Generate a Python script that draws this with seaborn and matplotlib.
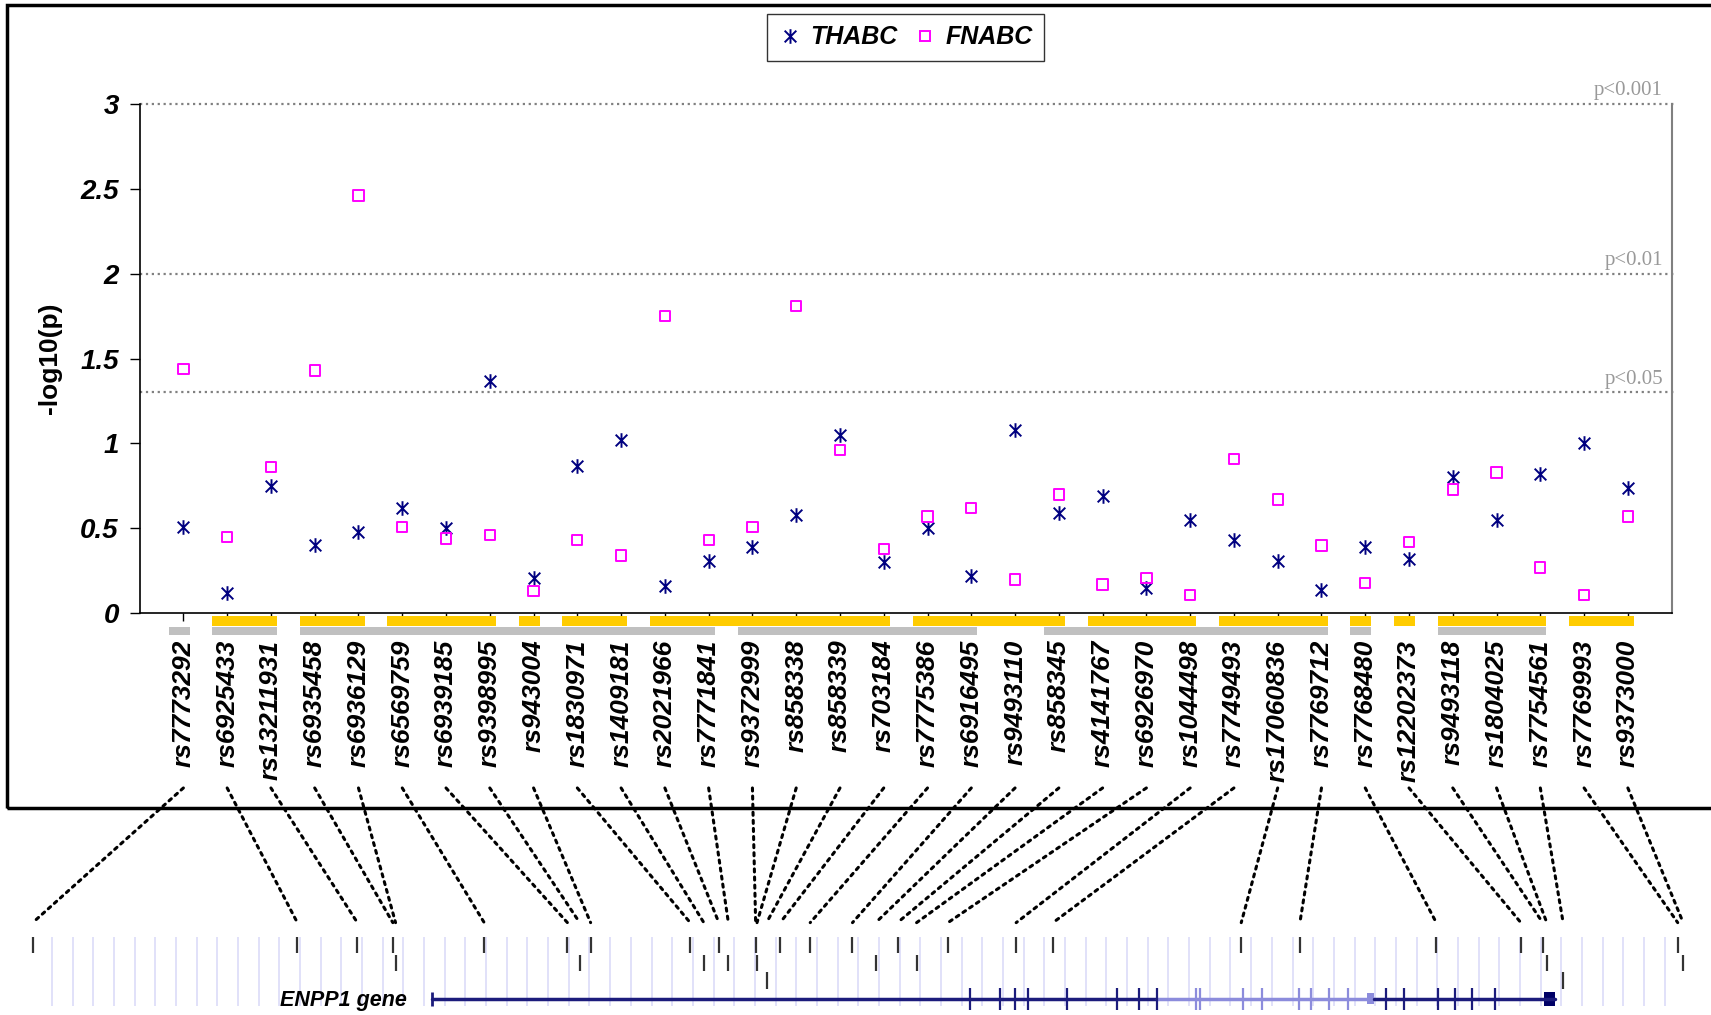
import numpy as np
import pandas as pd
import seaborn as sns
import matplotlib.pyplot as plt
from matplotlib.path import Path
from matplotlib.patches import Rectangle, ConnectionPatch
from matplotlib.lines import Line2D

# SNPs in plotting order
snps = ['rs7773292', 'rs6925433', 'rs13211931', 'rs6935458', 'rs6936129', 'rs6569759',
        'rs6939185', 'rs9398995', 'rs943004', 'rs1830971', 'rs1409181', 'rs2021966',
        'rs7771841', 'rs9372999', 'rs858338', 'rs858339', 'rs703184', 'rs7775386',
        'rs6916495', 'rs9493110', 'rs858345', 'rs4141767', 'rs6926970', 'rs1044498',
        'rs7749493', 'rs17060836', 'rs7769712', 'rs7768480', 'rs12202373', 'rs9493118',
        'rs1804025', 'rs7754561', 'rs7769993', 'rs9373000']

thabc = [0.51, 0.12, 0.75, 0.40, 0.48, 0.62, 0.50, 1.37, 0.21, 0.87, 1.02, 0.16,
         0.31, 0.39, 0.58, 1.05, 0.30, 0.50, 0.22, 1.08, 0.59, 0.69, 0.15, 0.55,
         0.43, 0.31, 0.14, 0.39, 0.32, 0.80, 0.55, 0.82, 1.00, 0.74]

fnabc = [1.44, 0.45, 0.86, 1.43, 2.46, 0.51, 0.44, 0.46, 0.13, 0.43, 0.34, 1.75,
         0.43, 0.51, 1.81, 0.96, 0.38, 0.57, 0.62, 0.20, 0.70, 0.17, 0.21, 0.11,
         0.91, 0.67, 0.40, 0.18, 0.42, 0.73, 0.83, 0.27, 0.11, 0.57]

# LD blocks (first and last SNP index)
yellow_blocks = [(1, 2), (3, 4), (5, 7), (8, 8), (9, 10), (11, 16), (17, 20),
                 (21, 23), (24, 26), (27, 27), (28, 28), (29, 31), (32, 33)]
gray_blocks = [(0, 0), (1, 2), (3, 12), (13, 18), (20, 26), (27, 27), (29, 31)]

# significance thresholds
sig_p = [0.001, 0.01, 0.05]
sig_labels = ['p<0.001', 'p<0.01', 'p<0.05']

yticks = [0, 0.5, 1, 1.5, 2, 2.5, 3]
ytick_labels = ['0', '0.5', '1', '1.5', '2', '2.5', '3']

# genomic position of each SNP (kb, relative) and stacking row in the track
snp_kb = [0.0, 19.4, 23.8, 26.4, 26.6, 33.1, 39.2, 40.1, 40.9, 48.2, 49.2, 50.3,
          51.0, 53.0, 53.1, 53.8, 54.8, 57.0, 60.1, 61.8, 63.4, 64.8, 67.1, 72.1,
          74.8, 88.6, 92.9, 102.9, 109.1, 110.7, 111.0, 112.2, 120.6, 121.0]
snp_row = [0, 0, 0, 0, 1, 0, 0, 1, 0, 0, 1, 0, 1, 0, 1, 2, 0, 0, 0, 1, 0, 1, 0, 0,
           0, 0, 0, 0, 0, 0, 1, 2, 0, 1]

# ENPP1 gene model (kb)
gene_start, gene_end = 29.3, 111.6
light_start, light_end = 82.4, 98.3
exons_dark = [68.7, 70.9, 72.0, 73.0, 75.8, 79.5, 81.1, 82.4,
              99.2, 100.5, 103.0, 104.3, 105.5, 107.2]
exons_light = [85.3, 85.6, 88.7, 90.1, 92.8, 93.7, 95.0, 96.4]
utr_light = (97.8, 98.3)
utr_dark = (110.8, 111.6)

sns.set_style('white')
plt.rcParams['font.family'] = ['Liberation Sans', 'DejaVu Sans']
plt.rcParams['text.color'] = 'black'
plt.rcParams['axes.labelcolor'] = 'black'
plt.rcParams['xtick.color'] = 'black'
plt.rcParams['ytick.color'] = 'black'

df = pd.DataFrame({'pos': np.arange(len(snps)), 'THABC': thabc, 'FNABC': fnabc})

navy = '#000080'
magenta = '#ff00ff'

fig = plt.figure(figsize=(17.11, 10.15), dpi=100)
ax = fig.add_axes([0.0816, 0.3957, 0.8954, 0.5021])

star = Path([(0, -1), (0, 1), (-0.8, -0.8), (0.8, 0.8), (-0.8, 0.8), (0.8, -0.8)],
            [Path.MOVETO, Path.LINETO] * 3)

sns.scatterplot(data=df, x='pos', y='THABC', marker=star, s=110, color=navy,
                edgecolor=navy, linewidth=1.4, ax=ax, zorder=3)
sns.scatterplot(data=df, x='pos', y='FNABC', marker='s', s=55, facecolor='none',
                edgecolor=magenta, linewidth=1.4, ax=ax, zorder=3)

ax.set_xlim(-1, 34)
ax.set_ylim(0, 3)
ax.set_xticks(range(len(snps)))
ax.set_xticklabels(snps, rotation=90, fontsize=19, fontweight='bold', fontstyle='italic')
ax.set_yticks(yticks)
ax.set_yticklabels(ytick_labels, fontsize=20, fontweight='bold', fontstyle='italic')
ax.tick_params(axis='x', bottom=True, direction='out', length=6, width=1, pad=13,
               color='black', labelcolor='black')
ax.tick_params(axis='y', left=True, direction='out', length=7, width=1, pad=8,
               color='black', labelcolor='black')
ax.set_xlabel('')
ax.set_ylabel('-log10(p)', fontsize=19, fontweight='bold', labelpad=13, color='black')

ax.spines['top'].set_visible(False)
ax.spines['right'].set_color('#808080')
ax.spines['right'].set_linewidth(1.5)
for side in ['left', 'bottom']:
    ax.spines[side].set_color('black')
    ax.spines[side].set_linewidth(1.2)

for p, lab in zip(sig_p, sig_labels):
    y = -np.log10(p)
    ax.axhline(y, xmin=0, xmax=1.003, ls=':', color='#808080', lw=1.6, clip_on=False)
    ax.text(33.8, y + 0.02, lab, ha='right', va='bottom', family='Liberation Serif',
            fontsize=15, color='#999999')

# LD block bars under the axis
for a, b in yellow_blocks:
    ax.add_patch(Rectangle((a - 0.34, -0.024), b - a + 0.48, 0.019,
                           transform=ax.get_xaxis_transform(), color='#ffcc00',
                           clip_on=False, lw=0))
for a, b in gray_blocks:
    ax.add_patch(Rectangle((a - 0.34, -0.043), b - a + 0.48, 0.017,
                           transform=ax.get_xaxis_transform(), color='#c0c0c0',
                           clip_on=False, lw=0))

handles = [Line2D([], [], marker=star, ls='none', markersize=10.5, markeredgecolor=navy,
                  markerfacecolor=navy, mew=1.4),
           Line2D([], [], marker='s', ls='none', markersize=7.4, markeredgecolor=magenta,
                  markerfacecolor='none', mew=1.4)]
leg = fig.legend(handles, ['THABC', 'FNABC'], loc='upper center', bbox_to_anchor=(0.529, 0.9985),
                 ncol=2, frameon=True, fancybox=False, edgecolor='black',
                 prop={'weight': 'bold', 'style': 'italic', 'size': 18},
                 handletextpad=0.3, columnspacing=0.6, borderpad=0.45, handlelength=1.0)
leg.get_frame().set_linewidth(1.0)

# gene track
tax = fig.add_axes([0, 0, 1, 0.1])
tax.set_xlim(-2.4, 123.04)
tax.set_ylim(0, 0.1)
tax.axis('off')

tax.vlines(np.arange(1.4, 120.5, 1.516), 0.009, 0.077, color='#dcdcf8', lw=1.2, zorder=0)
for kb, row in zip(snp_kb, snp_row):
    tax.vlines(kb, 0.061 - row * 0.0175, 0.077 - row * 0.0175, color='#333333', lw=1.6)

dark = '#1c1c7c'
light = '#8c8cdc'
tax.plot([gene_start, light_start], [0.016, 0.016], color=dark, lw=2.5)
tax.plot([light_start, light_end], [0.016, 0.016], color=light, lw=2.5)
tax.plot([light_end, gene_end], [0.016, 0.016], color=dark, lw=2.5)
tax.vlines(gene_start, 0.009, 0.023, color=dark, lw=2)
tax.vlines(exons_dark, 0.005, 0.027, color=dark, lw=1.6)
tax.vlines(exons_light, 0.005, 0.027, color=light, lw=1.6)
tax.add_patch(Rectangle((utr_light[0], 0.011), utr_light[1] - utr_light[0], 0.011,
                        color=light, lw=0))
tax.add_patch(Rectangle((utr_dark[0], 0.009), utr_dark[1] - utr_dark[0], 0.014,
                        color='#000066', lw=0))
tax.text(gene_start - 1.9, 0.014, 'ENPP1 gene', ha='right', va='center', fontsize=15.5,
         fontweight='bold', fontstyle='italic', color='black')

# dotted links from labels to genomic positions
for i, kb in enumerate(snp_kb):
    con = ConnectionPatch(xyA=(i, -0.3426), coordsA=ax.get_xaxis_transform(),
                          xyB=(kb, 0.091), coordsB=tax.transData,
                          ls=':', lw=2.2, color='black')
    fig.add_artist(con)

# outer frame
fig.add_artist(Rectangle((0.004, 0.204), 1.0, 0.791, transform=fig.transFigure,
                         fill=False, lw=2.5, ec='black', clip_on=False))

fig.savefig('out.png', dpi=100)
